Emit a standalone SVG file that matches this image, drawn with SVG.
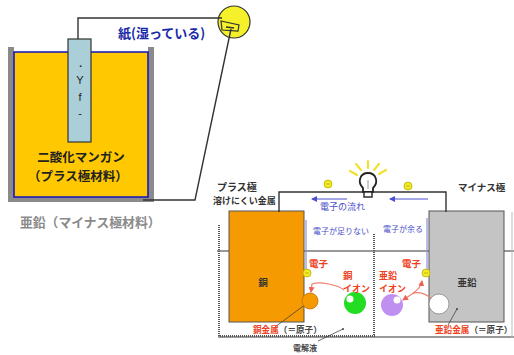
<svg xmlns="http://www.w3.org/2000/svg" width="514" height="355" viewBox="0 0 514 355">
  <style>
    .jp { font-family: "Noto Sans CJK JP", "Noto Sans", sans-serif; }
    .wire { fill: none; stroke: #333; stroke-width: 1.4; }
    .grayline { fill: none; stroke: #777; stroke-width: 1.5; }
    .dotted { fill: none; stroke: #555; stroke-width: 2; stroke-dasharray: 1 1; }
    .blueline { fill: none; stroke: #8a8fd8; stroke-width: 1.2; }
    .bluearrow { fill: none; stroke: #4a4fd0; stroke-width: 1.2; marker-end: url(#blueHead); }
    .redarrow { fill: none; stroke: #f08070; stroke-width: 1.2; marker-end: url(#redHead); }
    .leader { fill: none; stroke: #444; stroke-width: 0.8; }
    .electron { fill: #f2ea2a; stroke: #b8b000; stroke-width: 0.8; }
    .red { fill: #f04020; font-weight: bold; }
    .blue { fill: #4a4fc8; }
    .dark { fill: #333; font-weight: bold; }
    .ray { stroke: #f2e030; stroke-width: 2.2; stroke-linecap: round; }
  </style>
  <defs>
    <marker id="blueHead" viewBox="0 0 6 6" refX="5" refY="3" markerWidth="5" markerHeight="5" orient="auto">
      <path d="M0,0 L6,3 L0,6 Z" fill="#4a4fd0"/>
    </marker>
    <marker id="redHead" viewBox="0 0 6 6" refX="5" refY="3" markerWidth="5" markerHeight="5" orient="auto">
      <path d="M0,0 L6,3 L0,6 Z" fill="#f06050"/>
    </marker>
  </defs>

  <rect width="514" height="355" fill="#fff"/>

  <!-- Left: dry cell cross-section -->
  <g id="cell">
    <rect x="8" y="47" width="6" height="153" fill="#8a8a8a"/>
    <rect x="148" y="47" width="6" height="153" fill="#8a8a8a"/>
    <rect x="8" y="196" width="146" height="6" fill="#8a8a8a"/>
    <rect x="14" y="52" width="134" height="145" fill="#ffc800" stroke="#1010c0" stroke-width="1.5"/>
    <text class="jp" x="81" y="162" font-size="12.5" font-weight="bold" fill="#222" text-anchor="middle">二酸化マンガン</text>
    <text class="jp" x="78" y="181" font-size="12.5" font-weight="bold" fill="#222" text-anchor="middle">（プラス極材料）</text>
  </g>

  <g id="rod">
    <rect x="68" y="39" width="23" height="103" fill="#aacfd8" stroke="#333" stroke-width="1.2"/>
    <text x="80" y="70" font-family="Liberation Sans, sans-serif" font-size="11" fill="#222" text-anchor="middle">・</text>
    <text x="80" y="84" font-family="Liberation Sans, sans-serif" font-size="11" fill="#222" text-anchor="middle">Y</text>
    <text x="80" y="101" font-family="Liberation Sans, sans-serif" font-size="11" fill="#222" text-anchor="middle">f</text>
    <text x="80" y="117" font-family="Liberation Sans, sans-serif" font-size="11" fill="#222" text-anchor="middle">-</text>
  </g>

  <g id="paper-label">
    <text class="jp" x="118" y="38" font-size="13" font-weight="bold" fill="#1a2aa8">紙(湿っている)</text>
  </g>

  <g id="zinc-label">
    <text class="jp" x="20" y="227" font-size="12.8" font-weight="bold" fill="#8a8a8a">亜鉛（マイナス極材料）</text>
  </g>

  <g id="lamp-small">
    <circle cx="234" cy="22" r="16" fill="#f5f02a" stroke="#333" stroke-width="1.2"/>
    <path d="M221,21 L239,25 L238,31 L222,30 Z" fill="none" stroke="#333" stroke-width="1.2"/>
    <path d="M226,27 L234,28" stroke="#333" stroke-width="1.5"/>
  </g>

  <!-- Left circuit wires -->
  <g id="left-wires">
    <path class="wire" d="M78,39 V18 H222"/>
    <path class="wire" d="M231,29 L195,200 H143"/>
  </g>

  <!-- Right: copper/zinc cell -->
  <g id="labels-top">
    <text class="jp dark" x="217" y="191" font-size="10">プラス極</text>
    <text class="jp dark" x="213" y="204" font-size="9">溶けにくい金属</text>
    <text class="jp dark" x="458" y="191" font-size="9.5">マイナス極</text>
  </g>

  <g id="container">
    <path class="grayline" d="M217,251 H514"/>
    <path class="grayline" d="M218,337 H514" stroke="#999"/>
    <path class="dotted" d="M219,225 V336 H375"/>
    <path class="dotted" d="M374,234 V336"/>
    <path d="M512,212 V338" stroke="#bbb" stroke-width="1" fill="none"/>
  </g>

  <g id="copper">
    <rect x="229" y="211" width="75" height="111" fill="#f59a00" stroke="#555" stroke-width="1"/>
    <text class="jp" x="263" y="286" font-size="9.5" font-weight="bold" fill="#333" text-anchor="middle">銅</text>
  </g>

  <g id="zinc">
    <rect x="429" y="211" width="75" height="111" fill="#c4c4c4" stroke="#555" stroke-width="1"/>
    <text class="jp" x="467" y="286" font-size="9.5" font-weight="bold" fill="#333" text-anchor="middle">亜鉛</text>
  </g>

  <g id="lamp">
    <line class="ray" x1="350" y1="171" x2="357" y2="175"/>
    <line class="ray" x1="356" y1="164" x2="361" y2="170"/>
    <line class="ray" x1="368" y1="161" x2="368" y2="168"/>
    <line class="ray" x1="379" y1="164" x2="374" y2="170"/>
    <line class="ray" x1="386" y1="170" x2="379" y2="174"/>
    <path d="M363,188 C357,182 360,173 368,173 C376,173 379,182 373,188 L373,192 L363,192 Z" fill="#fff" stroke="#222" stroke-width="1.8"/>
    <rect x="364" y="192" width="8" height="5" fill="#fff" stroke="#222" stroke-width="1.4"/>
    <path d="M368,180 V189" stroke="#bbb" stroke-width="1.5"/>
  </g>

  <g id="connectors">
    <path class="wire" d="M279,212 V192 H363"/>
    <path class="wire" d="M373,192 H446 V212"/>
    <circle class="electron" cx="328" cy="184" r="4"/>
    <path d="M326,184 H330" stroke="#b8b000" stroke-width="0.8"/>
    <circle class="electron" cx="408" cy="186" r="4"/>
    <path d="M406,186 H410" stroke="#b8b000" stroke-width="0.8"/>
    <path class="bluearrow" d="M347,199 H312"/>
    <path class="bluearrow" d="M428,199 H390"/>
    <path class="blueline" d="M306,220 V270"/>
    <path class="blueline" d="M427,218 V270"/>
    <path class="redarrow" d="M344,290 C338,285 320,281 312,284 L311,292"/>
    <path class="redarrow" d="M431,298 C424,293 418,291 412,294 L403,300"/>
    <path class="redarrow" d="M413,293 C418,290 421,287 422,281"/>
    <path class="leader" d="M310,301 L275,327"/>
    <path class="leader" d="M343,329 L318,341"/>
    <circle cx="343" cy="329" r="1" fill="#444"/>
    <path class="leader" d="M457,309 L448,325"/>
    <circle cx="457" cy="309" r="1" fill="#444"/>
  </g>

  <g id="particles">
    <circle class="electron" cx="307" cy="273" r="4"/>
    <path d="M305,273 H309" stroke="#b8b000" stroke-width="0.8"/>
    <circle class="electron" cx="426" cy="273" r="4"/>
    <path d="M424,273 H428" stroke="#b8b000" stroke-width="0.8"/>
    <circle cx="310" cy="301" r="8" fill="#f59a00" stroke="#c07000" stroke-width="0.8"/>
    <circle cx="355" cy="303" r="11" fill="#22dd22"/>
    <circle cx="350" cy="299" r="3.5" fill="#fff"/>
    <circle cx="392" cy="305" r="11" fill="#c090f0"/>
    <circle cx="397" cy="300" r="3.5" fill="#fff"/>
    <circle cx="439" cy="304" r="10" fill="#fff" stroke="#888" stroke-width="0.8"/>
  </g>

  <g id="texts">
    <text class="jp blue" x="320" y="210" font-size="9">電子の流れ</text>
    <text class="jp blue" x="313" y="234" font-size="8">電子が足りない</text>
    <text class="jp blue" x="383" y="232" font-size="8">電子が余る</text>
    <text class="jp red" x="309" y="267" font-size="9.5">電子</text>
    <text class="jp red" x="402" y="267" font-size="9.5">電子</text>
    <text class="jp red" x="343" y="279" font-size="9.5">銅</text>
    <text class="jp red" x="343" y="292" font-size="9">イオン</text>
    <text class="jp red" x="379" y="279" font-size="9">亜鉛</text>
    <text class="jp red" x="379" y="292" font-size="9">イオン</text>
    <text class="jp" x="253" y="333" font-size="8.6" font-weight="bold"><tspan fill="#f04020">銅金属</tspan><tspan fill="#444">（＝原子）</tspan></text>
    <text class="jp" x="435" y="333" font-size="8.6" font-weight="bold"><tspan fill="#f04020">亜鉛金属</tspan><tspan fill="#444">（＝原子）</tspan></text>
    <text class="jp" x="293" y="351" font-size="8" font-weight="bold" fill="#444">電解液</text>
  </g>
</svg>
